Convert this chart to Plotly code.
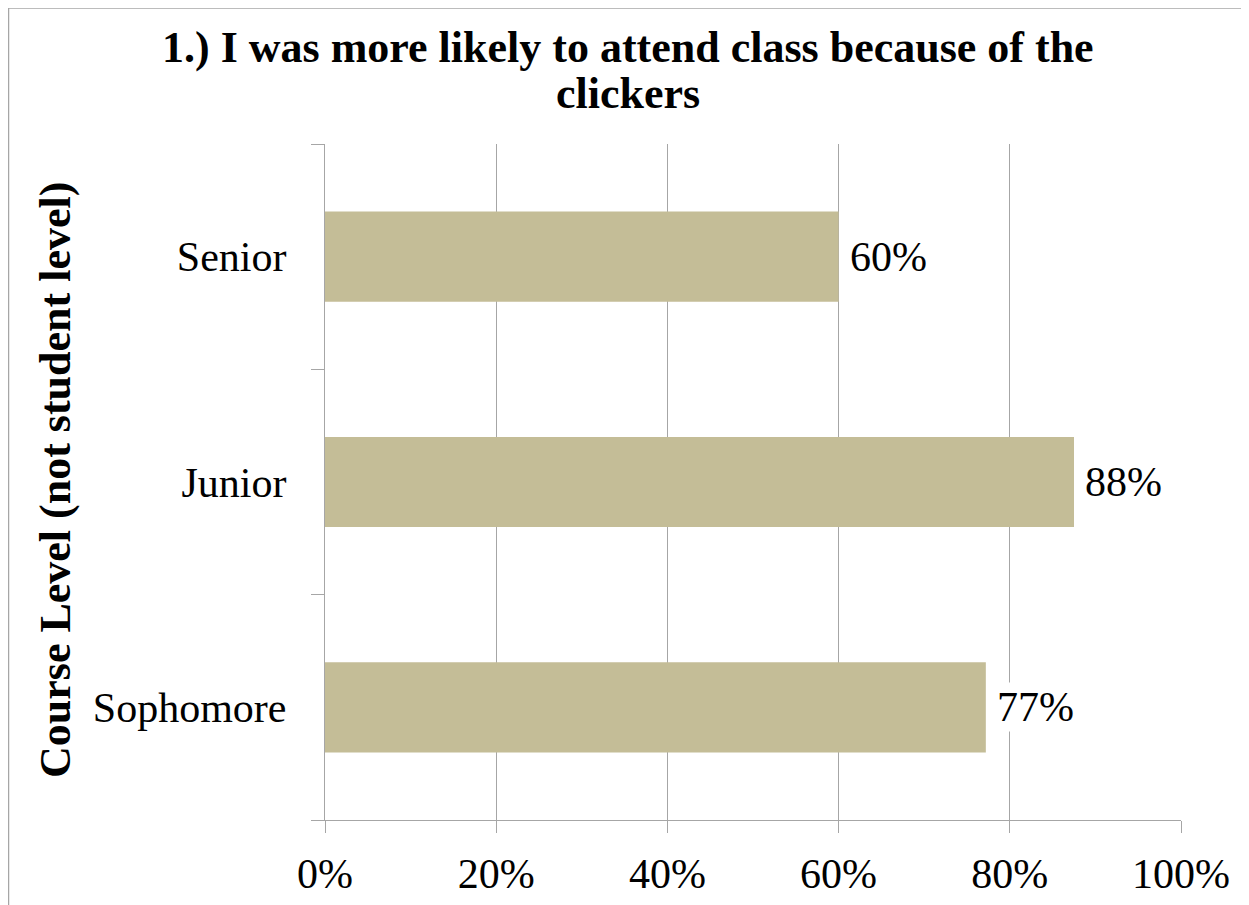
import plotly.graph_objects as go

categories = ["Sophomore", "Junior", "Senior"]
values = [0.772, 0.875, 0.60]
labels = ["77%", "88%", "60%"]
x_ticks = [0, 0.2, 0.4, 0.6, 0.8, 1.0]
x_tick_text = ["0%", "20%", "40%", "60%", "80%", "100%"]

W, H = 1249, 905
L, R, T, B = 317, 76, 136, 93
pw, ph = W - L - R, H - T - B

def px(x):
    return (x - L) / pw

def py(y):
    return (H - B - y) / ph

FONT = "Liberation Serif"
GRID = "#A6A6A6"

fig = go.Figure()
fig.add_trace(go.Bar(
    y=categories, x=values, orientation="h",
    marker=dict(color="#C4BD97", line=dict(width=0)),
    hoverinfo="skip",
))

for c, v, t in zip(categories, values, labels):
    fig.add_annotation(x=v, y=c, xref="x", yref="y", text=t, showarrow=False,
                       xanchor="left", yanchor="middle", xshift=9, yshift=0,
                       bgcolor="white", borderpad=1,
                       font=dict(family=FONT, size=42, color="black"))

fig.add_annotation(x=px(47), y=py(472), xref="paper", yref="paper",
                   text="<b>Course Level (not student level)</b>", textangle=-90,
                   showarrow=False, xanchor="center", yanchor="middle",
                   font=dict(family=FONT, size=44, color="black"))

fig.add_annotation(x=px(620), y=py(40), xref="paper", yref="paper",
                   text="<b>1.) I was more likely to attend class because of the</b>",
                   showarrow=False, xanchor="center", yanchor="middle",
                   font=dict(family=FONT, size=44, color="black"))
fig.add_annotation(x=px(620), y=py(86), xref="paper", yref="paper",
                   text="<b>clickers</b>",
                   showarrow=False, xanchor="center", yanchor="middle",
                   font=dict(family=FONT, size=44, color="black"))

fig.add_shape(type="rect", xref="paper", yref="paper",
              x0=px(0.5), x1=px(1300), y0=py(960), y1=py(0),
              line=dict(color="#A6A6A6", width=1.5), fillcolor="rgba(0,0,0,0)",
              layer="below")

fig.update_layout(
    width=W, height=H,
    margin=dict(l=L, r=R, t=T, b=B, pad=0),
    paper_bgcolor="white", plot_bgcolor="white",
    showlegend=False,
    bargap=0.6,
    xaxis=dict(range=[0, 1], tickvals=x_ticks, ticktext=x_tick_text,
               showgrid=True, gridcolor=GRID, gridwidth=1.3,
               showline=True, linecolor=GRID, linewidth=1.3,
               ticks="outside", ticklen=12, tickcolor=GRID, tickwidth=1.3,
               tickfont=dict(family=FONT, size=42, color="black"),
               ticklabelstandoff=4,
               zeroline=False, fixedrange=True),
    yaxis=dict(range=[-0.5, 2.5], categoryorder="array", categoryarray=categories,
               showgrid=False, showline=True, linecolor=GRID, linewidth=1.3,
               ticks="outside", tickson="boundaries", ticklen=13,
               tickcolor=GRID, tickwidth=1.3,
               tickfont=dict(family=FONT, size=42, color="black"),
               ticklabelstandoff=29,
               zeroline=False, fixedrange=True),
)

fig.write_html("out.html", config={"displayModeBar": False})
